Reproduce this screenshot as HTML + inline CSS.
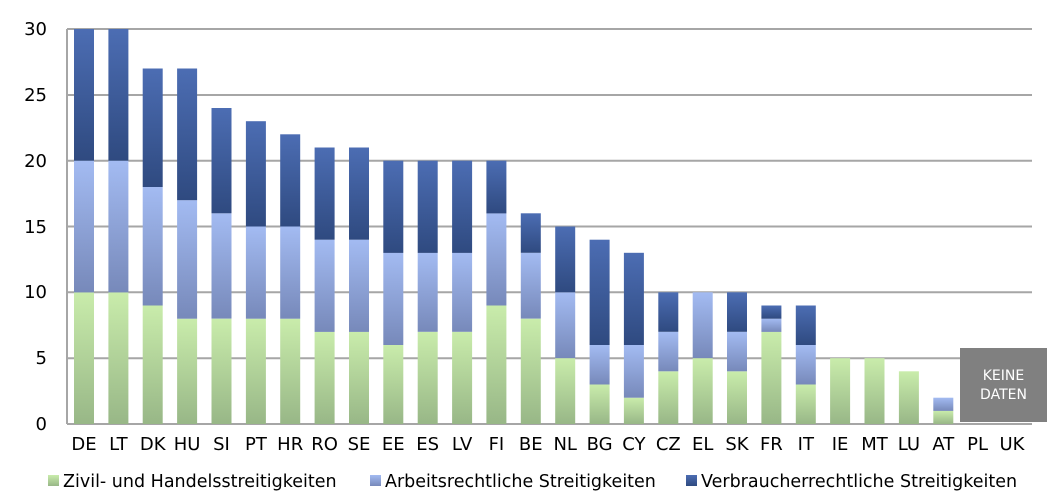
<!DOCTYPE html>
<html><head><meta charset="utf-8"><style>
html,body{margin:0;padding:0;background:#fff;}
svg{display:block;font-family:"DejaVu Sans","Liberation Sans",sans-serif;}
</style></head><body>
<svg width="1063" height="504" viewBox="0 0 1063 504">
<defs>
<linearGradient id="g" x1="0" y1="0" x2="0" y2="1"><stop offset="0" stop-color="#c9ecab"/><stop offset="1" stop-color="#98b787"/></linearGradient>
<linearGradient id="b" x1="0" y1="0" x2="0" y2="1"><stop offset="0" stop-color="#a3bbf2"/><stop offset="1" stop-color="#7789ba"/></linearGradient>
<linearGradient id="d" x1="0" y1="0" x2="0" y2="1"><stop offset="0" stop-color="#4c6db3"/><stop offset="1" stop-color="#2f4a80"/></linearGradient>
</defs>
<g stroke="#a6a6a6" stroke-width="2">
<line x1="67" y1="29" x2="1032" y2="29"/><line x1="67" y1="95" x2="1032" y2="95"/><line x1="67" y1="160.7" x2="1032" y2="160.7"/><line x1="67" y1="226.5" x2="1032" y2="226.5"/><line x1="67" y1="292.3" x2="1032" y2="292.3"/><line x1="67" y1="358.2" x2="1032" y2="358.2"/><line x1="67" y1="424" x2="1032" y2="424"/><line x1="67" y1="29" x2="67" y2="424"/>
</g>
<g font-size="18" fill="#000" text-anchor="end">
<text x="47" y="35">30</text><text x="47" y="101">25</text><text x="47" y="167">20</text><text x="47" y="233">15</text><text x="47" y="298">10</text><text x="47" y="364">5</text><text x="47" y="430">0</text>
</g>
<g>
<rect x="74" y="292.3" width="20" height="131.7" fill="url(#g)"/><rect x="74" y="160.7" width="20" height="131.7" fill="url(#b)"/><rect x="74" y="29" width="20" height="131.7" fill="url(#d)"/>
<rect x="108.4" y="292.3" width="20" height="131.7" fill="url(#g)"/><rect x="108.4" y="160.7" width="20" height="131.7" fill="url(#b)"/><rect x="108.4" y="29" width="20" height="131.7" fill="url(#d)"/>
<rect x="142.7" y="305.5" width="20" height="118.5" fill="url(#g)"/><rect x="142.7" y="187" width="20" height="118.5" fill="url(#b)"/><rect x="142.7" y="68.5" width="20" height="118.5" fill="url(#d)"/>
<rect x="177.1" y="318.7" width="20" height="105.3" fill="url(#g)"/><rect x="177.1" y="200.2" width="20" height="118.5" fill="url(#b)"/><rect x="177.1" y="68.5" width="20" height="131.7" fill="url(#d)"/>
<rect x="211.5" y="318.7" width="20" height="105.3" fill="url(#g)"/><rect x="211.5" y="213.3" width="20" height="105.3" fill="url(#b)"/><rect x="211.5" y="108" width="20" height="105.3" fill="url(#d)"/>
<rect x="245.9" y="318.7" width="20" height="105.3" fill="url(#g)"/><rect x="245.9" y="226.5" width="20" height="92.2" fill="url(#b)"/><rect x="245.9" y="121.2" width="20" height="105.3" fill="url(#d)"/>
<rect x="280.2" y="318.7" width="20" height="105.3" fill="url(#g)"/><rect x="280.2" y="226.5" width="20" height="92.2" fill="url(#b)"/><rect x="280.2" y="134.3" width="20" height="92.2" fill="url(#d)"/>
<rect x="314.6" y="331.8" width="20" height="92.2" fill="url(#g)"/><rect x="314.6" y="239.7" width="20" height="92.2" fill="url(#b)"/><rect x="314.6" y="147.5" width="20" height="92.2" fill="url(#d)"/>
<rect x="349" y="331.8" width="20" height="92.2" fill="url(#g)"/><rect x="349" y="239.7" width="20" height="92.2" fill="url(#b)"/><rect x="349" y="147.5" width="20" height="92.2" fill="url(#d)"/>
<rect x="383.3" y="345" width="20" height="79" fill="url(#g)"/><rect x="383.3" y="252.8" width="20" height="92.2" fill="url(#b)"/><rect x="383.3" y="160.7" width="20" height="92.2" fill="url(#d)"/>
<rect x="417.7" y="331.8" width="20" height="92.2" fill="url(#g)"/><rect x="417.7" y="252.8" width="20" height="79" fill="url(#b)"/><rect x="417.7" y="160.7" width="20" height="92.2" fill="url(#d)"/>
<rect x="452.1" y="331.8" width="20" height="92.2" fill="url(#g)"/><rect x="452.1" y="252.8" width="20" height="79" fill="url(#b)"/><rect x="452.1" y="160.7" width="20" height="92.2" fill="url(#d)"/>
<rect x="486.4" y="305.5" width="20" height="118.5" fill="url(#g)"/><rect x="486.4" y="213.3" width="20" height="92.2" fill="url(#b)"/><rect x="486.4" y="160.7" width="20" height="52.7" fill="url(#d)"/>
<rect x="520.8" y="318.7" width="20" height="105.3" fill="url(#g)"/><rect x="520.8" y="252.8" width="20" height="65.8" fill="url(#b)"/><rect x="520.8" y="213.3" width="20" height="39.5" fill="url(#d)"/>
<rect x="555.2" y="358.2" width="20" height="65.8" fill="url(#g)"/><rect x="555.2" y="292.3" width="20" height="65.8" fill="url(#b)"/><rect x="555.2" y="226.5" width="20" height="65.8" fill="url(#d)"/>
<rect x="589.6" y="384.5" width="20" height="39.5" fill="url(#g)"/><rect x="589.6" y="345" width="20" height="39.5" fill="url(#b)"/><rect x="589.6" y="239.7" width="20" height="105.3" fill="url(#d)"/>
<rect x="623.9" y="397.7" width="20" height="26.3" fill="url(#g)"/><rect x="623.9" y="345" width="20" height="52.7" fill="url(#b)"/><rect x="623.9" y="252.8" width="20" height="92.2" fill="url(#d)"/>
<rect x="658.3" y="371.3" width="20" height="52.7" fill="url(#g)"/><rect x="658.3" y="331.8" width="20" height="39.5" fill="url(#b)"/><rect x="658.3" y="292.3" width="20" height="39.5" fill="url(#d)"/>
<rect x="692.7" y="358.2" width="20" height="65.8" fill="url(#g)"/><rect x="692.7" y="292.3" width="20" height="65.8" fill="url(#b)"/>
<rect x="727" y="371.3" width="20" height="52.7" fill="url(#g)"/><rect x="727" y="331.8" width="20" height="39.5" fill="url(#b)"/><rect x="727" y="292.3" width="20" height="39.5" fill="url(#d)"/>
<rect x="761.4" y="331.8" width="20" height="92.2" fill="url(#g)"/><rect x="761.4" y="318.7" width="20" height="13.2" fill="url(#b)"/><rect x="761.4" y="305.5" width="20" height="13.2" fill="url(#d)"/>
<rect x="795.8" y="384.5" width="20" height="39.5" fill="url(#g)"/><rect x="795.8" y="345" width="20" height="39.5" fill="url(#b)"/><rect x="795.8" y="305.5" width="20" height="39.5" fill="url(#d)"/>
<rect x="830.1" y="358.2" width="20" height="65.8" fill="url(#g)"/>
<rect x="864.5" y="358.2" width="20" height="65.8" fill="url(#g)"/>
<rect x="898.9" y="371.3" width="20" height="52.7" fill="url(#g)"/>
<rect x="933.3" y="410.8" width="20" height="13.2" fill="url(#g)"/><rect x="933.3" y="397.7" width="20" height="13.2" fill="url(#b)"/>
</g>
<rect x="960" y="348" width="87" height="74" fill="#808080"/>
<text x="1003.5" y="380" font-size="14" fill="#fff" text-anchor="middle">KEINE</text>
<text x="1003.5" y="399" font-size="14" fill="#fff" text-anchor="middle">DATEN</text>
<g font-size="18" fill="#000" text-anchor="middle">
<text x="84" y="450">DE</text><text x="118.4" y="450">LT</text><text x="152.7" y="450">DK</text><text x="187.1" y="450">HU</text><text x="221.5" y="450">SI</text><text x="255.9" y="450">PT</text><text x="290.2" y="450">HR</text><text x="324.6" y="450">RO</text><text x="359" y="450">SE</text><text x="393.3" y="450">EE</text><text x="427.7" y="450">ES</text><text x="462.1" y="450">LV</text><text x="496.4" y="450">FI</text><text x="530.8" y="450">BE</text><text x="565.2" y="450">NL</text><text x="599.6" y="450">BG</text><text x="633.9" y="450">CY</text><text x="668.3" y="450">CZ</text><text x="702.7" y="450">EL</text><text x="737" y="450">SK</text><text x="771.4" y="450">FR</text><text x="805.8" y="450">IT</text><text x="840.1" y="450">IE</text><text x="874.5" y="450">MT</text><text x="908.9" y="450">LU</text><text x="943.3" y="450">AT</text><text x="977.6" y="450">PL</text><text x="1012" y="450">UK</text>
</g>
<rect x="48" y="475" width="11" height="11" fill="url(#g)"/>
<text x="63" y="487" font-size="17.5">Zivil- und Handelsstreitigkeiten</text>
<rect x="370" y="475" width="11" height="11" fill="url(#b)"/>
<text x="385" y="487" font-size="17.5">Arbeitsrechtliche Streitigkeiten</text>
<rect x="686" y="475" width="11" height="11" fill="url(#d)"/>
<text x="701" y="487" font-size="17.5">Verbraucherrechtliche Streitigkeiten</text>
</svg>
</body></html>
